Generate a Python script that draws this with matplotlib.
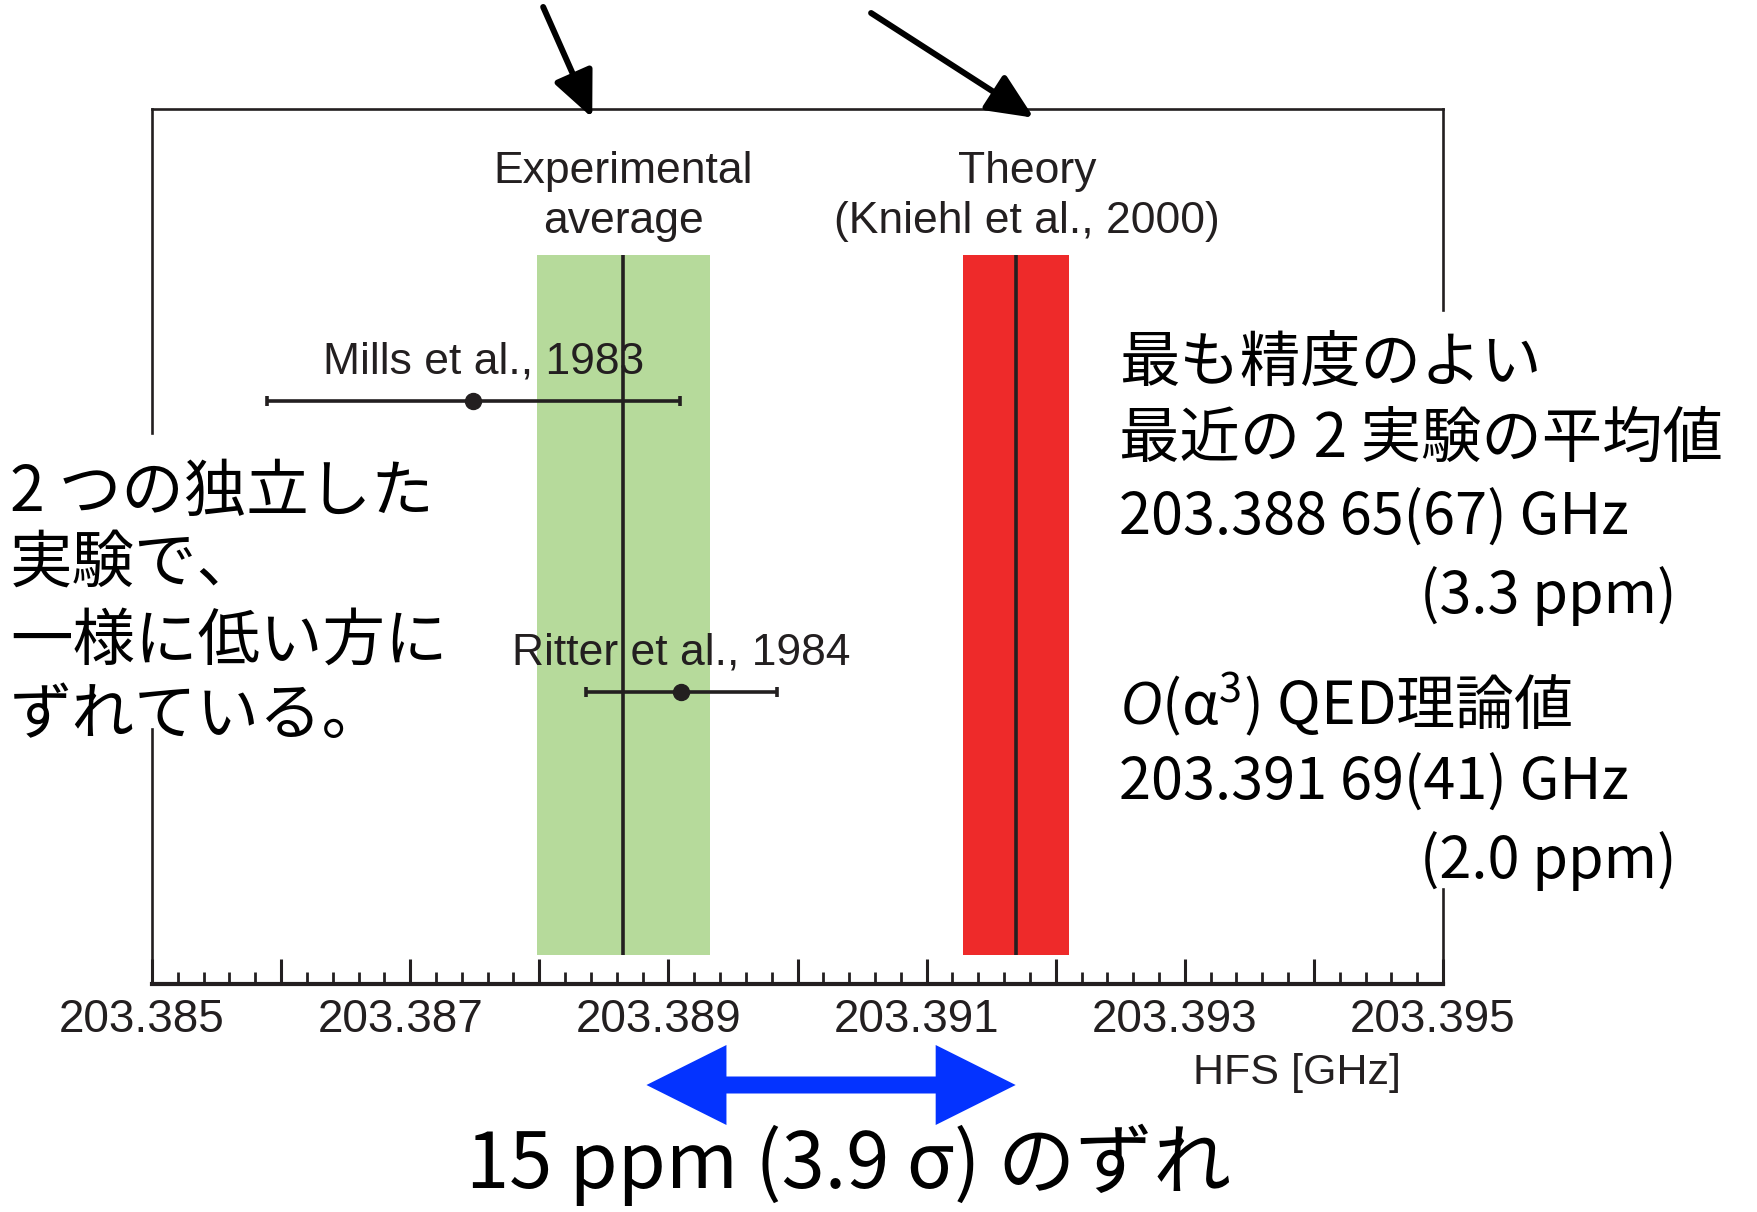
import matplotlib
matplotlib.use('Agg')
import matplotlib.pyplot as plt
from matplotlib import transforms
from matplotlib.patches import Polygon
from matplotlib.ticker import FixedLocator, FixedFormatter
import numpy as np

# ---------------- data ----------------
measurements = ['Mills et al., 1983', 'Ritter et al., 1984']
meas_values = [203.38749, 203.38910]
meas_errors = [0.00160, 0.00074]
meas_rows = [2, 1]

band_labels = ['Experimental\naverage', 'Theory\n(Kniehl et al., 2000)']
band_values = [203.38865, 203.39169]
band_errors = [0.00067, 0.00041]
band_colors = ['#b6da9b', '#ee2a2a']
band_label_x = [203.38865, 203.39178]

tick_values = [203.385, 203.387, 203.389, 203.391, 203.393, 203.395]
tick_labels = ['203.385', '203.387', '203.389', '203.391', '203.393', '203.395']

shift_range = [203.38883, 203.39169]

left_lines = ['2 つの独立した', '実験で、', '一様に低い方に', 'ずれている。']
right_lines = ['最も精度のよい', '最近の 2 実験の平均値', '203.388 65(67) GHz', '(3.3 ppm)',
               '$O$(α$^3$) QED理論値', '203.391 69(41) GHz', '(2.0 ppm)']
bottom_text = '15 ppm (3.9 σ) のずれ'

# ---------------- style ----------------
W, H = 1758, 1212
DARK = '#231f20'
JP = ['Noto Sans CJK JP', 'DejaVu Sans']
plt.rcParams['font.family'] = ['Liberation Sans', 'DejaVu Sans']
plt.rcParams['mathtext.fontset'] = 'custom'
plt.rcParams['mathtext.rm'] = 'Noto Sans CJK JP'
plt.rcParams['mathtext.it'] = 'Open Sans:italic'

fig = plt.figure(figsize=(W / 100, H / 100), dpi=100)
ax_l, ax_r, ax_t, ax_b = 152, 1443, 109, 984
ax = fig.add_axes([ax_l / W, 1 - ax_b / H, (ax_r - ax_l) / W, (ax_b - ax_t) / H])
ax.set_xlim(tick_values[0], tick_values[-1])
ax.set_ylim(0, 3)

# bands
for v, e, c in zip(band_values, band_errors, band_colors):
    ax.fill_betweenx([0.1, 2.5], v - e, v + e, color=c, lw=0, zorder=1)
    ax.plot([v, v], [0.1, 2.5], color=DARK, lw=2.6, zorder=4, solid_capstyle='butt')

for lbl, x in zip(band_labels, band_label_x):
    ax.text(x, 2.70, lbl, ha='center', va='center', fontsize=32, color=DARK,
            linespacing=1.3, zorder=3)

# measurements
ax.errorbar(meas_values, meas_rows, xerr=meas_errors, fmt='o', color=DARK,
            ms=11.5, elinewidth=2.6, capsize=3.6, capthick=2.6, zorder=5)
offsets = [(7, 28), (0, 28)]
for name, v, r, off in zip(measurements, meas_values, meas_rows, offsets):
    ax.annotate(name, (v, r), xytext=off, textcoords='offset points',
                ha='center', va='center', fontsize=32, color=DARK, zorder=3)

# frame
for s in ['left', 'right']:
    ax.spines[s].set_visible(False)
ax.spines['top'].set_linewidth(1.9)
ax.spines['top'].set_color(DARK)
ax.spines['bottom'].set_linewidth(3.0)
ax.spines['bottom'].set_color(DARK)
xmin, xmax = ax.get_xlim()
for x, segs in [(xmin, [(0.0, 0.291), (0.630, 1.0)]), (xmax, [(0.0, 0.109), (0.770, 1.0)])]:
    for a, b in segs:
        ax.axvline(x, ymin=a, ymax=b, color=DARK, lw=1.9, clip_on=False, zorder=6)

# ticks
major = np.linspace(tick_values[0], tick_values[-1], 11)
minor = np.linspace(tick_values[0], tick_values[-1], 51)
labels = [tick_labels[tick_values.index(round(m, 3))] if round(m, 3) in tick_values else '' for m in major]
ax.xaxis.set_major_locator(FixedLocator(major))
ax.xaxis.set_major_formatter(FixedFormatter(labels))
ax.xaxis.set_minor_locator(FixedLocator(minor))
ax.tick_params(axis='x', which='major', direction='in', length=18, width=2.2, color=DARK,
               labelsize=33, labelcolor=DARK, pad=10)
ax.tick_params(axis='x', which='minor', direction='in', length=8.6, width=2.0, color=DARK)
ax.set_yticks([])
for t in ax.get_xticklabels():
    t.set_transform(t.get_transform() + transforms.ScaledTranslation(-0.10, 0, fig.dpi_scale_trans))

ax.text(0.887, -0.1017, 'HFS [GHz]', transform=ax.transAxes, ha='center', va='center',
        fontsize=31, color=DARK)

# black arrows at top
arrow_specs = [((203.38803, 1.1166), (203.38841, 0.990)), ((203.39057, 1.1097), (203.39183, 0.990))]
for tail, tip in arrow_specs:
    ax.annotate('', xy=tip, xytext=tail, xycoords=('data', 'axes fraction'),
                textcoords=('data', 'axes fraction'),
                arrowprops=dict(arrowstyle='-|>,head_length=1.0,head_width=0.45',
                                mutation_scale=28, lw=4.3, color='black',
                                shrinkA=0, shrinkB=0), annotation_clip=False)

# blue double arrow
bt = transforms.blended_transform_factory(ax.transData, fig.transFigure)
x0, x1 = shift_range
yc = 1 - 1085 / H
sh, hh = 8.5 / H, 40 / H
hl = 80 / (ax_r - ax_l) * (xmax - xmin)
verts = [(x0, yc), (x0 + hl, yc + hh), (x0 + hl, yc + sh), (x1 - hl, yc + sh), (x1 - hl, yc + hh),
         (x1, yc), (x1 - hl, yc - hh), (x1 - hl, yc - sh), (x0 + hl, yc - sh), (x0 + hl, yc - hh)]
fig.patches.append(Polygon(verts, closed=True, transform=bt, facecolor='#0433ff',
                           edgecolor='none', clip_on=False, figure=fig))

# Japanese annotations
left_y = [493, 564, 642, 716]
for s, y in zip(left_lines, left_y):
    fig.text(10 / W, 1 - y / H, s, ha='left', va='center', fontsize=45, family=JP, color='black')

right_pos = [(1119, 365), (1119, 440), (1119, 518), (1420, 596), (1119, 705), (1119, 783), (1420, 861)]
right_sizes = [43.5, 43.5, 41.5, 41.5, 42.5, 41.5, 41.5]
for s, (x, y), fs in zip(right_lines, right_pos, right_sizes):
    fig.text(x / W, 1 - y / H, s, ha='left', va='center', fontsize=fs, family=JP, color='black')

fig.text(849 / W, 6 / H, bottom_text, ha='center', va='bottom', fontsize=56,
         family=JP, color='black')

fig.savefig('out.png', dpi=100)
